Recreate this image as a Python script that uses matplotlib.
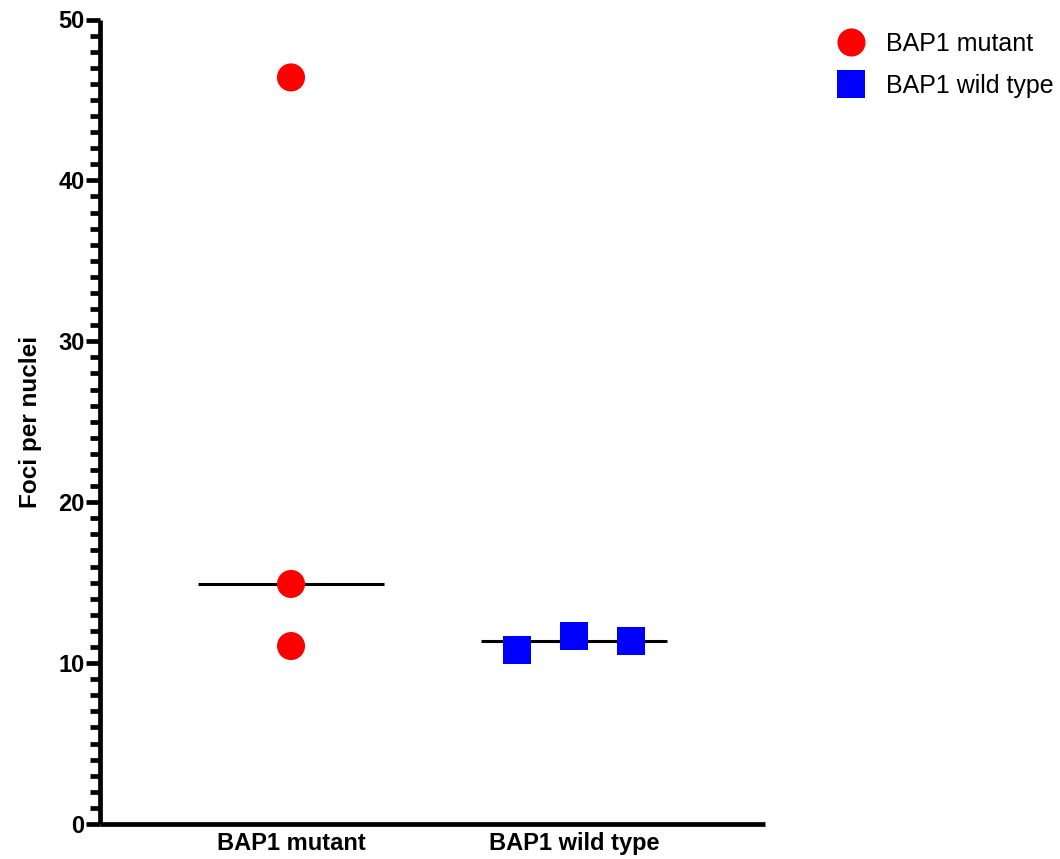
import numpy as np
import matplotlib
matplotlib.use("Agg")
import matplotlib.pyplot as plt
from matplotlib.ticker import MultipleLocator
from matplotlib.lines import Line2D

plt.rcParams['font.family'] = ['Liberation Sans', 'DejaVu Sans']

groups = ["BAP1 mutant", "BAP1 wild type"]
mutant = [46.4, 14.92, 11.06]
wild_type = [10.81, 11.68, 11.40]
mutant_offsets = [0.0, 0.0, 0.0]
wild_offsets = [-0.2, 0.0, 0.2]

fig = plt.figure(figsize=(10.6, 8.59), dpi=100)
ax = fig.add_axes([100 / 1060, 35 / 859, 665 / 1060, 804.5 / 859])

spine_w = 3.4
for s in ("top", "right"):
    ax.spines[s].set_visible(False)
for s in ("left", "bottom"):
    ax.spines[s].set_linewidth(spine_w)
    ax.spines[s].set_capstyle("butt")

# medians
for i, vals in enumerate([mutant, wild_type]):
    m = np.median(vals)
    ax.plot([i - 0.33, i + 0.33], [m, m], color="black", lw=2.2, zorder=2,
            solid_capstyle="butt")

marker_area = 20.2 ** 2
ax.scatter(np.zeros(3) + np.array(mutant_offsets), mutant, s=marker_area,
           marker="o", color="#ff0000", edgecolors="none", zorder=3, clip_on=False)
ax.scatter(np.ones(3) + np.array(wild_offsets), wild_type, s=marker_area,
           marker="s", color="#0000ff", edgecolors="none", zorder=3, clip_on=False)

ax.set_xlim(-0.675, 1.675)
ax.set_ylim(0, 50)
ax.yaxis.set_major_locator(MultipleLocator(10))
ax.yaxis.set_minor_locator(MultipleLocator(1))
ax.tick_params(axis="y", which="major", length=10, width=spine_w, labelsize=17, pad=1)
ax.tick_params(axis="y", which="minor", length=7, width=spine_w)
ax.set_xticks([0, 1])
ax.set_xticklabels(groups)
ax.tick_params(axis="x", length=0, labelsize=17, pad=6)
for lab in ax.get_xticklabels() + ax.get_yticklabels():
    lab.set_fontweight("bold")
ax.set_ylabel("Foci per nuclei", fontsize=17.5, fontweight="bold", labelpad=12)

handles = [
    Line2D([], [], marker="o", ls="none", color="#ff0000", markersize=20.2, markeredgewidth=0),
    Line2D([], [], marker="s", ls="none", color="#0000ff", markersize=20.8, markeredgewidth=0),
]
fig.legend(handles, groups, loc="upper left", bbox_to_anchor=(832 / 1060, 1 - 32 / 859),
           frameon=False, fontsize=18, handletextpad=0.64, labelspacing=0.71,
           borderaxespad=0, borderpad=0, handlelength=1.5)

fig.savefig("out.png", dpi=100)
